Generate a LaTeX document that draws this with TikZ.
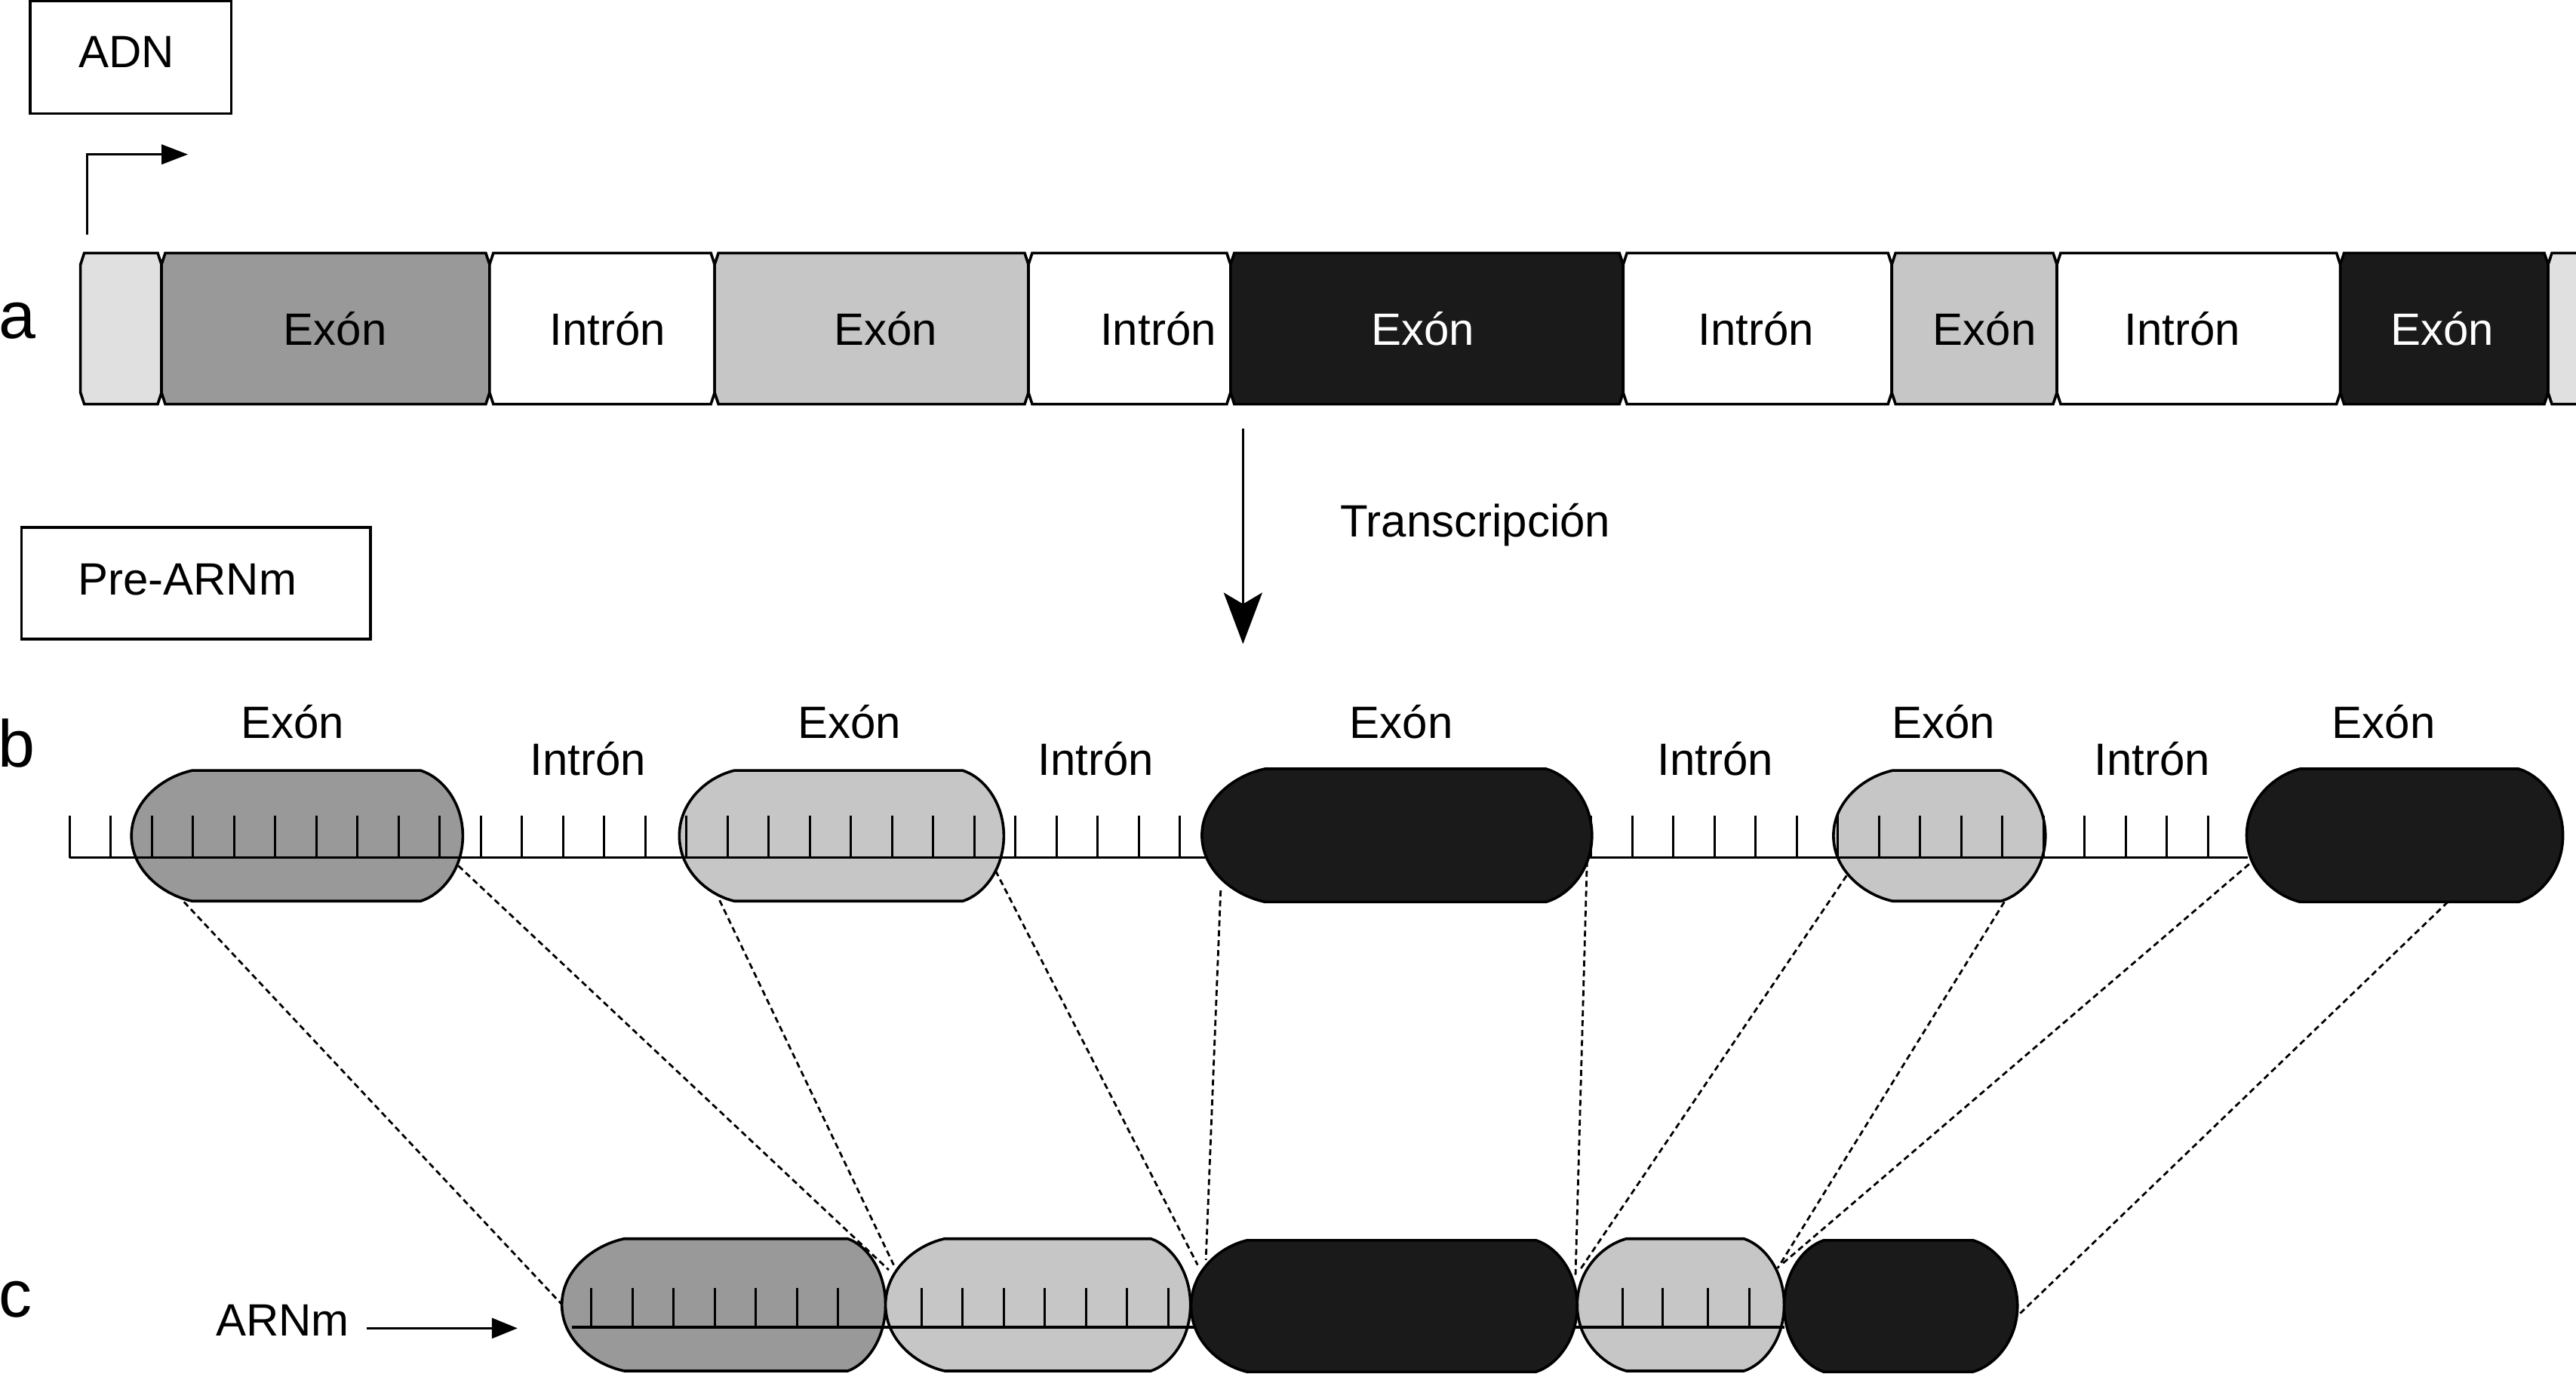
\documentclass[tikz,border=0pt]{standalone}
\usepackage{fontspec}
\setmainfont{Liberation Sans}
\usetikzlibrary{arrows.meta}
\definecolor{dgray}{HTML}{999999}
\definecolor{lgray}{HTML}{C6C6C6}
\definecolor{vlgray}{HTML}{E0E0E0}
\definecolor{nblack}{HTML}{1A1A1A}
% bar segment of the DNA: x0, x1, fill
\newcommand{\barseg}[3]{%
  \filldraw[segline, fill=#3] ({#1+2.3},154) -- ({#2-2.3},154) -- (#2,161) -- (#2,239)
    -- ({#2-2.3},246) -- ({#1+2.3},246) -- (#1,239) -- (#1,161) -- cycle;}
% capsule: xl, xa, xb, xr, top, bottom, fill
\newcommand{\drawcapsule}[7]{%
  \filldraw[capline, fill=#7] (#2,#5) -- (#3,#5)
    .. controls ({#3+0.5*(#4-#3)},{#5+0.05*(#6-#5)}) and (#4,{#5+0.24*(#6-#5)}) .. (#4,{0.5*(#5+#6)})
    .. controls (#4,{#6-0.24*(#6-#5)}) and ({#3+0.5*(#4-#3)},{#6-0.05*(#6-#5)}) .. (#3,#6)
    -- (#2,#6)
    .. controls ({#2-0.5*(#2-#1)},{#6-0.05*(#6-#5)}) and (#1,{#6-0.24*(#6-#5)}) .. (#1,{0.5*(#5+#6)})
    .. controls (#1,{#5+0.24*(#6-#5)}) and ({#2-0.5*(#2-#1)},{#5+0.05*(#6-#5)}) .. (#2,#5) -- cycle;}
\tikzset{
  segline/.style={draw=black, line width=0.9pt, line join=miter},
  capline/.style={draw=black, line width=0.9pt},
  lbl/.style={inner sep=0pt, font=\fontsize{15}{18}\selectfont},
  wlbl/.style={lbl, text=white},
  letter/.style={inner sep=0pt, anchor=base west, font=\fontsize{22}{26}\selectfont},
  boxline/.style={draw=black, line width=0.8pt},
  tick/.style={line width=0.75pt},
  strand/.style={line width=0.95pt},
  splice/.style={line width=0.7pt, dash pattern=on 2pt off 1.3pt},
  arrowline/.style={line width=0.8pt}
}
\begin{document}
\begin{tikzpicture}[x=0.5444pt, y=-0.5444pt]
\useasboundingbox (0,0) rectangle (1568,836);
\clip (0,0) rectangle (1568,836);

% ---------- boxes ----------
\draw[boxline] (18.4,0.8) rectangle (140.8,69);
\node[lbl, anchor=base] (adn) at (77,41.2) {ADN};
\draw[boxline] (13,321) rectangle (225.5,389);
\node[lbl, anchor=base] (pre) at (114,362) {Pre-ARNm};

% ---------- promoter arrow ----------
\coordinate (pstart) at (53.2,143);
\coordinate (pcorner) at (53.2,94);
\coordinate (ptip) at (114.4,94);
\draw[arrowline, -{Triangle[length=8.75pt, width=6.5pt]}] (pstart) -- (pcorner) -- (ptip);

% ---------- DNA bar (a) ----------
\barseg{49}{98.3}{vlgray}
\barseg{98.3}{298}{dgray}
\barseg{298}{435}{white}
\barseg{435}{626}{lgray}
\barseg{626}{749}{white}
\barseg{749}{988}{nblack}
\barseg{988}{1151.5}{white}
\barseg{1151.5}{1252}{lgray}
\barseg{1252}{1424.5}{white}
\barseg{1424.5}{1551}{nblack}
\barseg{1551}{1600}{vlgray}
\node[lbl, anchor=base]  (a1) at (204,210) {Exón};
\node[lbl, anchor=base]  (a2) at (370,210) {Intrón};
\node[lbl, anchor=base]  (a3) at (539,210) {Exón};
\node[lbl, anchor=base]  (a4) at (705,210) {Intrón};
\node[wlbl, anchor=base] (a5) at (866,210) {Exón};
\node[lbl, anchor=base]  (a6) at (1069,210) {Intrón};
\node[lbl, anchor=base]  (a7) at (1208,210) {Exón};
\node[lbl, anchor=base]  (a8) at (1328.5,210) {Intrón};
\node[wlbl, anchor=base] (a9) at (1486.5,210) {Exón};

% ---------- transcription arrow ----------
\coordinate (tstart) at (756.6,261);
\coordinate (ttip) at (756.6,392);
\draw[arrowline, -{Stealth[length=17pt, width=12.75pt, inset=3.75pt]}] (tstart) -- (ttip);
\node[lbl, anchor=base] (trans) at (898,327) {Transcripción};

% ---------- splice connectors ----------
\coordinate (b1s) at (112,549);   \coordinate (c0) at (342,794);
\coordinate (b2s) at (279,527);   \coordinate (c1a) at (541,773);
\coordinate (b3s) at (438,548);   \coordinate (c1b) at (544,770);
\coordinate (b4s) at (606,530);   \coordinate (c2a) at (729,770);
\coordinate (b5s) at (743,542);   \coordinate (c2b) at (734,767);
\coordinate (b6s) at (966,524);   \coordinate (c3a) at (959,776);
\coordinate (b7s) at (1124,533);  \coordinate (c3b) at (961,774);
\coordinate (b8s) at (1220,549);  \coordinate (c4a) at (1082,772);
\coordinate (b9s) at (1369,526);  \coordinate (c4b) at (1084,770);
\coordinate (b10s) at (1490,549); \coordinate (c5) at (1228,801);
\draw[splice] (b1s) -- (c0);
\draw[splice] (b2s) -- (c1a);
\draw[splice] (b3s) -- (c1b);
\draw[splice] (b4s) -- (c2a);
\draw[splice] (b5s) -- (c2b);
\draw[splice] (b6s) -- (c3a);
\draw[splice] (b7s) -- (c3b);
\draw[splice] (b8s) -- (c4a);
\draw[splice] (b9s) -- (c4b);
\draw[splice] (b10s) -- (c5);

% ---------- pre-mRNA (b) ----------
\drawcapsule{80}{117}{256}{281.7}{469}{548.5}{dgray}
\drawcapsule{413.5}{447}{586}{611}{469}{548.5}{lgray}
\drawcapsule{1116}{1152}{1218}{1245}{469}{548.5}{lgray}
\draw[strand] (42.3,522) -- (1368,522);
\foreach \k in {0,...,52} \draw[tick] ({42.3+25.03*\k},496.6) -- ({42.3+25.03*\k},522);
\drawcapsule{731.6}{770}{941}{969}{468}{549}{nblack}
\drawcapsule{1367.5}{1400}{1533}{1560}{468}{549}{nblack}
\node[lbl, anchor=base] (b1) at (178,449.5) {Exón};
\node[lbl, anchor=base] (b2) at (358,472) {Intrón};
\node[lbl, anchor=base] (b3) at (517,449.5) {Exón};
\node[lbl, anchor=base] (b4) at (667,472) {Intrón};
\node[lbl, anchor=base] (b5) at (853,449.5) {Exón};
\node[lbl, anchor=base] (b6) at (1044,472) {Intrón};
\node[lbl, anchor=base] (b7) at (1183,449.5) {Exón};
\node[lbl, anchor=base] (b8) at (1310,472) {Intrón};
\node[lbl, anchor=base] (b9) at (1451,449.5) {Exón};

% ---------- mRNA (c) ----------
\drawcapsule{342}{380}{516}{539}{754}{834.5}{dgray}
\drawcapsule{539}{575}{700.5}{724.6}{754}{834.5}{lgray}
\drawcapsule{960}{990}{1061.5}{1086}{754}{834.5}{lgray}
\draw[strand] (348,808) -- (1086,808);
\foreach \k in {0,...,6} \draw[tick] ({360+25*\k},784) -- ({360+25*\k},808);
\foreach \k in {0,...,6} \draw[tick] ({561+25*\k},784) -- ({561+25*\k},808);
\foreach \x in {987.6,1012,1039.4,1064.8} \draw[tick] (\x,784) -- (\x,808);
\drawcapsule{725}{759}{935}{960}{755}{835}{nblack}
\drawcapsule{1086}{1110}{1201}{1228}{755}{835}{nblack}

\node[lbl, anchor=base] (arnm) at (172,813) {ARNm};
\coordinate (mstart) at (223,808.5);
\coordinate (mtip) at (315,808.5);
\draw[arrowline, -{Triangle[length=8.5pt, width=6.7pt]}] (mstart) -- (mtip);

% ---------- panel letters ----------
\node[letter] (la) at (-1,206) {a};
\node[letter] (lb) at (-1.5,467) {b};
\node[letter] (lc) at (-1,801.6) {c};
\end{tikzpicture}
\end{document}
